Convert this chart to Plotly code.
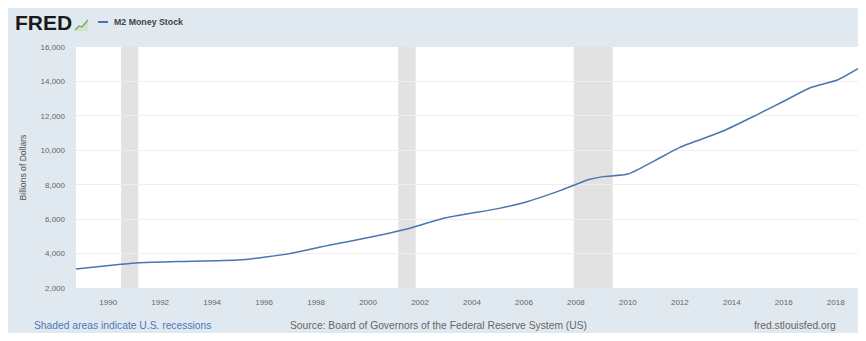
import plotly.graph_objects as go

# ---- data ----
dates = ["1988-10-01", "1990-07-01", "1991-03-01", "1992-09-01", "1995-01-01",
         "1996-01-01", "1997-01-01", "1998-03-01", "1998-07-01", "2000-03-01",
         "2001-06-01", "2003-01-01", "2005-01-01", "2006-02-01", "2007-06-01",
         "2008-07-01", "2009-01-15", "2010-01-01", "2011-01-15", "2012-01-01",
         "2013-09-01", "2015-01-01", "2016-01-01", "2017-01-01", "2018-02-01",
         "2019-01-01"]
m2_values = [3100, 3380, 3470, 3540, 3630,
             3790, 4000, 4380, 4480, 4980,
             5400, 6075, 6610, 7000, 7670,
             8300, 8470, 8620, 9400, 10170,
             11120, 12090, 12850, 13620, 14100,
             14870]
recession_starts = ["1990-07-01", "2001-03-01", "2007-12-01"]
recession_ends = ["1991-03-01", "2001-11-01", "2009-06-01"]
y_ticks = [2000, 4000, 6000, 8000, 10000, 12000, 14000, 16000]

# ---- geometry (page pixels; the page body adds an 8px offset) ----
OFF = 8
W, H = 866 - OFF, 341 - 2 * OFF
L, R, T, B = 76, 862, 47, 288          # plot area in page pixels
def px(x):
    return (x - L) / (R - L)
def py(y):
    return (B - y) / (B - T)

FONT = "Liberation Sans, Arial, sans-serif"
BG = "#e1e9f0"
LINE = "#4a76ae"

fig = go.Figure()
fig.add_trace(go.Scatter(
    x=dates, y=m2_values, mode="lines",
    line=dict(color=LINE, width=1.5, shape="spline", smoothing=0.6),
    name="M2 Money Stock", showlegend=False, hoverinfo="x+y"))

shapes = []
# recessions
for s, e in zip(recession_starts, recession_ends):
    shapes.append(dict(type="rect", xref="x", yref="paper", layer="below",
                       x0=s, x1=e, y0=0, y1=1, fillcolor="#e2e2e2",
                       line=dict(width=0)))
# legend line sample
shapes.append(dict(type="line", xref="paper", yref="paper",
                   x0=px(98), x1=px(108), y0=py(22), y1=py(22),
                   line=dict(color=LINE, width=2)))
# FRED small chart icon
shapes.append(dict(type="path", xref="paper", yref="paper",
                   path=f"M {px(75)},{py(31)} L {px(79)},{py(27)} L {px(82)},{py(28)} L {px(88)},{py(21)} "
                        f"L {px(88)},{py(31)} Z",
                   fillcolor="#d3e3c8", line=dict(width=0)))
shapes.append(dict(type="path", xref="paper", yref="paper",
                   path=f"M {px(75)},{py(30)} L {px(79)},{py(26)} L {px(82)},{py(27)} L {px(88)},{py(20)}",
                   line=dict(color="#6aa84f", width=1.2)))

annotations = [
    dict(text="<b>FRED</b>", x=px(13), y=py(23), xref="paper", yref="paper",
         xanchor="left", yanchor="middle", showarrow=False,
         font=dict(family=FONT, size=21, color="#1a1a1a")),
    dict(text="<b>M2 Money Stock</b>", x=px(112), y=py(22), xref="paper", yref="paper",
         xanchor="left", yanchor="middle", showarrow=False,
         font=dict(family=FONT, size=8.8, color="#444444")),
    dict(text="Billions of Dollars", x=px(22), y=0.5, xref="paper", yref="paper",
         textangle=-90, xanchor="center", yanchor="middle", showarrow=False,
         font=dict(family=FONT, size=8.6, color="#555555")),
    dict(text="Shaded areas indicate U.S. recessions", x=px(32), y=py(325),
         xref="paper", yref="paper", xanchor="left", yanchor="middle", showarrow=False,
         font=dict(family=FONT, size=10.3, color="#4a78b8")),
    dict(text="Source: Board of Governors of the Federal Reserve System (US)",
         x=px(438), y=py(325), xref="paper", yref="paper", xanchor="center",
         yanchor="middle", showarrow=False,
         font=dict(family=FONT, size=10.3, color="#666666")),
    dict(text="fred.stlouisfed.org", x=px(838), y=py(325), xref="paper", yref="paper",
         xanchor="right", yanchor="middle", showarrow=False,
         font=dict(family=FONT, size=10.3, color="#666666")),
]

fig.update_layout(
    width=W, height=H,
    margin=dict(l=L - OFF, r=(W + OFF) - R, t=T - OFF, b=(H + OFF) - B, pad=0),
    paper_bgcolor=BG, plot_bgcolor="white",
    shapes=shapes, annotations=annotations, showlegend=False,
    font=dict(family=FONT, color="#666666"),
)
fig.update_xaxes(
    type="date", range=["1988-10-05", "2019-01-05"],
    tick0="1990-01-01", dtick="M24", tickformat="%Y",
    showgrid=False, zeroline=False, showline=False,
    ticks="", ticklabelstandoff=8,
    tickfont=dict(family=FONT, size=8, color="#666666"))
fig.update_yaxes(
    range=[2000, 16000], tickvals=y_ticks, tickformat=",",
    showgrid=True, gridcolor="#eeeeee", gridwidth=1, zeroline=False,
    showline=False, ticks="", ticklabelstandoff=10,
    tickfont=dict(family=FONT, size=8, color="#666666"))

fig.write_html("out.html")
